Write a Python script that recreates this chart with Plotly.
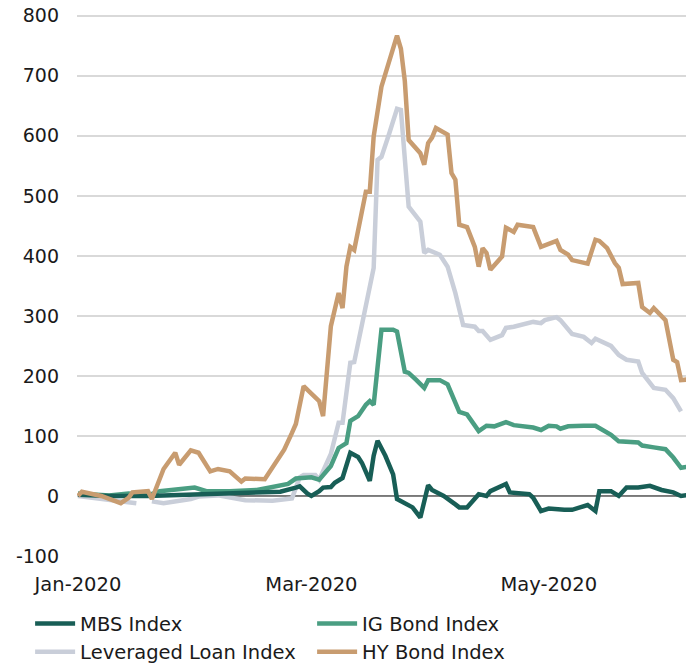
import plotly.graph_objects as go

# ---- data ----
HY_DATES = ["2020-01-01","2020-01-02","2020-01-07","2020-01-09","2020-01-12","2020-01-14","2020-01-15",
            "2020-01-19","2020-01-20","2020-01-23","2020-01-26","2020-01-27","2020-01-30","2020-02-01",
            "2020-02-04","2020-02-06","2020-02-09","2020-02-12","2020-02-13","2020-02-18","2020-02-20",
            "2020-02-23","2020-02-25","2020-02-26","2020-02-28","2020-03-03","2020-03-04","2020-03-05",
            "2020-03-06","2020-03-08","2020-03-09","2020-03-10","2020-03-11","2020-03-12","2020-03-15",
            "2020-03-16","2020-03-17","2020-03-19","2020-03-21","2020-03-23","2020-03-24","2020-03-25",
            "2020-03-26","2020-03-29","2020-03-30","2020-03-31","2020-04-01","2020-04-02","2020-04-05",
            "2020-04-06","2020-04-07","2020-04-08","2020-04-10","2020-04-12","2020-04-13","2020-04-14",
            "2020-04-15","2020-04-16","2020-04-19","2020-04-20","2020-04-22","2020-04-23","2020-04-27",
            "2020-04-29","2020-05-03","2020-05-04","2020-05-06","2020-05-07","2020-05-11","2020-05-13",
            "2020-05-14","2020-05-16","2020-05-18","2020-05-19","2020-05-20","2020-05-24","2020-05-25",
            "2020-05-27","2020-05-28","2020-05-31","2020-06-02","2020-06-03","2020-06-04","2020-06-07"]
HY_VALUES = [0, 7, 0, -5, -12, -3, 6,
             8, -5, 45, 72, 52, 76, 72,
             41, 45, 41, 24, 29, 28, 47,
             77, 105, 120, 183, 158, 133, 215,
             283, 338, 313, 382, 415, 410, 507,
             507, 599, 682, 722, 767, 745, 692,
             593, 571, 552, 588, 597, 613, 602,
             538, 527, 452, 448, 415, 382, 413,
             405, 377, 399, 447, 440, 452, 448,
             415, 425, 410, 402, 393, 387, 427,
             425, 413, 388, 380, 353, 355, 315,
             305, 313, 293, 227, 223, 193, 195]

LEV_DATES = ["2020-01-01","2020-01-07","2020-01-12","2020-01-16","2020-01-18","2020-01-20","2020-01-23",
             "2020-01-30","2020-02-01","2020-02-06","2020-02-09","2020-02-13","2020-02-20","2020-02-25",
             "2020-02-27","2020-02-28","2020-03-02","2020-03-03","2020-03-06","2020-03-08","2020-03-09",
             "2020-03-10","2020-03-11","2020-03-12","2020-03-14","2020-03-17","2020-03-18","2020-03-19",
             "2020-03-21","2020-03-23","2020-03-24","2020-03-26","2020-03-29","2020-03-30","2020-03-31",
             "2020-04-03","2020-04-05","2020-04-07","2020-04-09","2020-04-12","2020-04-13","2020-04-14",
             "2020-04-16","2020-04-19","2020-04-20","2020-04-22","2020-04-27","2020-04-29","2020-04-30",
             "2020-05-03","2020-05-04","2020-05-07","2020-05-10","2020-05-12","2020-05-13","2020-05-17",
             "2020-05-19","2020-05-21","2020-05-24","2020-05-25","2020-05-28","2020-05-31","2020-06-02",
             "2020-06-04"]
LEV_VALUES = [0, -5, -10, -12, None, -9, -12,
              -5, -1, 1, -3, -7, -8, -4,
              31, 35, 35, 27, 70, 122, 122,
              172, 222, 223, 288, 380, 560, 565,
              604, 645, 643, 482, 457, 405, 410,
              402, 382, 338, 285, 282, 275, 275,
              260, 268, 280, 282, 290, 288, 293,
              298, 293, 270, 265, 255, 262, 250,
              235, 227, 224, 205, 180, 177, 163,
              141]

IG_DATES = ["2020-01-01","2020-01-07","2020-01-09","2020-01-14","2020-01-19","2020-01-22","2020-01-26",
            "2020-01-31","2020-02-03","2020-02-09","2020-02-16","2020-02-22","2020-02-24","2020-02-26",
            "2020-03-01","2020-03-03","2020-03-06","2020-03-08","2020-03-10","2020-03-11","2020-03-13",
            "2020-03-15","2020-03-16","2020-03-17","2020-03-19","2020-03-22","2020-03-23","2020-03-25",
            "2020-03-26","2020-03-28","2020-03-30","2020-03-31","2020-04-03","2020-04-05","2020-04-06",
            "2020-04-08","2020-04-10","2020-04-13","2020-04-15","2020-04-17","2020-04-20","2020-04-22",
            "2020-04-27","2020-04-29","2020-05-01","2020-05-03","2020-05-04","2020-05-06","2020-05-10",
            "2020-05-13","2020-05-17","2020-05-19","2020-05-24","2020-05-25","2020-05-28","2020-05-31",
            "2020-06-02","2020-06-04","2020-06-07"]
IG_VALUES = [4, 2, 1, 4, 1, 8, 10,
             14, 8, 8, 10, 17, 20, 29,
             31, 27, 50, 80, 88, 125, 133,
             152, 158, 152, 277, 277, 274, 207,
             205, 193, 180, 193, 193, 186, 172,
             140, 136, 108, 117, 116, 123, 118,
             114, 110, 117, 116, 112, 116, 117,
             117, 102, 91, 89, 84, 81, 78,
             64, 47, 50]

MBS_DATES = ["2020-01-01","2020-01-09","2020-01-19","2020-02-01","2020-02-14","2020-02-22","2020-02-26",
             "2020-02-27","2020-02-29","2020-03-01","2020-03-03","2020-03-04","2020-03-06","2020-03-07",
             "2020-03-09","2020-03-11","2020-03-13","2020-03-14","2020-03-15","2020-03-16","2020-03-17",
             "2020-03-18","2020-03-20","2020-03-22","2020-03-23","2020-03-25","2020-03-27","2020-03-29",
             "2020-03-31","2020-04-01","2020-04-04","2020-04-07","2020-04-08","2020-04-10","2020-04-13",
             "2020-04-15","2020-04-16","2020-04-20","2020-04-21","2020-04-26","2020-04-27","2020-04-29",
             "2020-05-01","2020-05-05","2020-05-07","2020-05-11","2020-05-13","2020-05-14","2020-05-17",
             "2020-05-19","2020-05-21","2020-05-24","2020-05-27","2020-05-30","2020-06-02","2020-06-04",
             "2020-06-07"]
MBS_VALUES = [2, 0, 0, 2, 4, 7, 14,
              16, 4, 0, 8, 14, 15, 22,
              30, 72, 65, 55, 40, 25, 67,
              92, 67, 36, -5, -11, -19, -36,
              18, 10, 0, -14, -19, -19, 3,
              0, 8, 20, 6, 3, -3, -25,
              -21, -23, -23, -15, -25, 8, 8,
              0, 14, 14, 17, 10, 6, 0,
              3]

X_TICKS = ["2020-01-01", "2020-03-01", "2020-05-01"]
X_TICK_LABELS = ["Jan-2020", "Mar-2020", "May-2020"]
Y_TICKS = [-100, 0, 100, 200, 300, 400, 500, 600, 700, 800]
Y_TICK_LABELS = ["-100", "0", "100", "200", "300", "400", "500", "600", "700", "800"]

FONT = "DejaVu Sans"
TEXT = "#1a1a1a"

fig = go.Figure()

# thin black zero line (starts where the loan series resumes)
fig.add_trace(go.Scatter(x=[LEV_DATES[5], HY_DATES[-1]], y=[0, 0], mode="lines",
                         line=dict(color="#222222", width=1), showlegend=False, hoverinfo="skip"))

LW = 4.5
fig.add_trace(go.Scatter(x=LEV_DATES, y=LEV_VALUES, mode="lines", name="Leveraged Loan Index",
                         line=dict(color="#c9ced9", width=LW), connectgaps=False, legendrank=3))
fig.add_trace(go.Scatter(x=IG_DATES, y=IG_VALUES, mode="lines", name="IG Bond Index",
                         line=dict(color="#4a9e82", width=LW), legendrank=2))
fig.add_trace(go.Scatter(x=MBS_DATES, y=MBS_VALUES, mode="lines", name="MBS Index",
                         line=dict(color="#185e56", width=LW), legendrank=1))
fig.add_trace(go.Scatter(x=HY_DATES, y=HY_VALUES, mode="lines", name="HY Bond Index",
                         line=dict(color="#c89c70", width=LW), legendrank=4))

# the page body has an 8px margin, so the figure is 8px smaller than the window
fig.update_layout(
    width=686, height=655,
    margin=dict(l=69, r=0, t=6, b=107, autoexpand=False),
    plot_bgcolor="white", paper_bgcolor="white",
    font=dict(family=FONT, size=19, color=TEXT),
    xaxis=dict(type="date", range=["2019-12-31 18:00", "2020-06-07 08:00"],
               tickvals=X_TICKS, ticktext=X_TICK_LABELS, showgrid=False, zeroline=False,
               showline=False, ticks="", ticklabelstandoff=14,
               tickfont=dict(family=FONT, size=19.5, color=TEXT)),
    yaxis=dict(range=[-100, 803], tickvals=Y_TICKS, ticktext=Y_TICK_LABELS, showgrid=True,
               gridcolor="#d9d9d9", gridwidth=1.5, zeroline=False, showline=False, ticks="",
               ticklabelstandoff=17, ticklabeloverflow="allow",
               tickfont=dict(family=FONT, size=19, color=TEXT)),
    legend=dict(orientation="h", x=-0.076, xanchor="left", y=-0.089, yanchor="top",
                entrywidth=227, entrywidthmode="pixels", traceorder="normal",
                font=dict(family=FONT, size=19.5, color=TEXT), itemwidth=40,
                bgcolor="rgba(0,0,0,0)", tracegroupgap=0),
    showlegend=True,
)

fig.write_html("out.html")
